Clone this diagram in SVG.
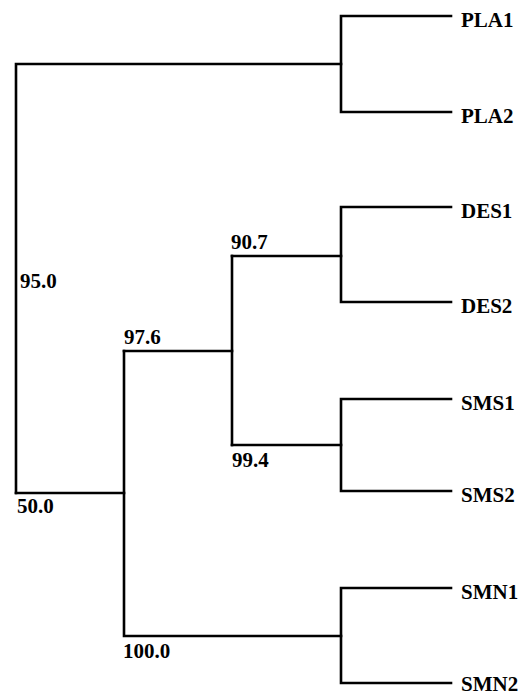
<svg xmlns="http://www.w3.org/2000/svg" width="525" height="696" viewBox="0 0 525 696">
<style>
.l{fill:none;stroke:#000;stroke-width:2.6;stroke-linecap:square;stroke-linejoin:miter}
.t{font-family:"Liberation Serif","Times New Roman",serif;font-weight:bold;font-size:21px;fill:#000}
</style>
<rect width="525" height="696" fill="#fff"/>
<g id="connectors">
<path class="l" d="M16,493V64H341"/>
<path class="l" d="M451,16H341V112H451"/>
<path class="l" d="M16,493H124"/>
<path class="l" d="M124,351H232"/>
<path class="l" d="M124,351V636H341"/>
<path class="l" d="M232,256V445"/>
<path class="l" d="M232,256H341"/>
<path class="l" d="M451,207H341V302H451"/>
<path class="l" d="M232,445H341"/>
<path class="l" d="M451,399H341V491H451"/>
<path class="l" d="M451,588H341V683H451"/>
</g>
<g id="PLA1"><text class="t" x="461" y="27">PLA1</text></g>
<g id="PLA2"><text class="t" x="461" y="123">PLA2</text></g>
<g id="DES1"><text class="t" x="461" y="218">DES1</text></g>
<g id="DES2"><text class="t" x="461" y="313">DES2</text></g>
<g id="SMS1"><text class="t" x="461" y="410">SMS1</text></g>
<g id="SMS2"><text class="t" x="461" y="502">SMS2</text></g>
<g id="SMN1"><text class="t" x="461" y="599">SMN1</text></g>
<g id="SMN2"><text class="t" x="461" y="691">SMN2</text></g>
<g id="labels">
<text class="t" x="20" y="288">95.0</text>
<text class="t" x="17" y="513">50.0</text>
<text class="t" x="124" y="344">97.6</text>
<text class="t" x="231" y="249">90.7</text>
<text class="t" x="232" y="467">99.4</text>
<text class="t" x="123" y="658">100.0</text>
</g>
</svg>
